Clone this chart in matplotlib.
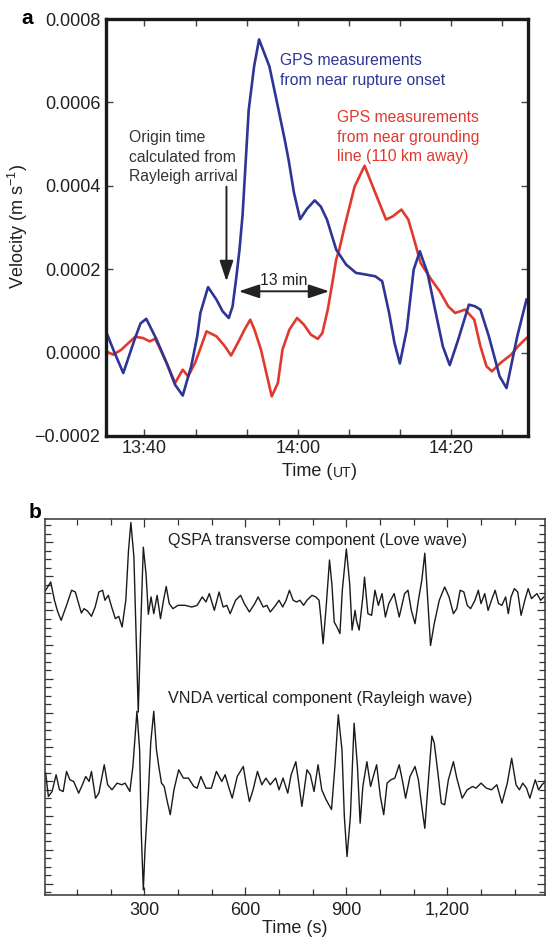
import matplotlib
matplotlib.use("Agg")
import matplotlib.pyplot as plt
from matplotlib.ticker import MultipleLocator, FixedLocator

plt.rcParams['font.family'] = ['Liberation Sans', 'DejaVu Sans']
plt.rcParams['mathtext.fontset'] = 'custom'
plt.rcParams['mathtext.rm'] = 'Liberation Sans'
plt.rcParams['mathtext.it'] = 'Liberation Sans:italic'

# ---- panel a: GPS velocity, time in minutes after 13:00, velocity in 1e-4 m/s
blue_t = [35.0, 36.0, 37.25, 38.7, 39.5, 40.25, 41.6, 42.9, 44.0, 45.0, 46.1, 46.9,
          47.3, 48.3, 49.4, 50.2, 51.0, 51.5, 52.0, 52.4, 52.8, 53.6, 54.3, 54.95,
          56.3, 57.4, 58.3, 58.8, 59.5, 60.3, 61.2, 62.2, 63.0, 63.8, 65.0, 66.3,
          67.6, 68.3, 70.1, 71.0, 71.9, 72.6, 73.3, 74.2, 75.1, 75.9, 76.9, 77.8,
          78.9, 79.8, 80.9, 82.3, 83.1, 83.8, 84.9, 86.3, 87.2, 88.6, 89.8]
blue_v = [0.51, 0.05, -0.49, 0.3, 0.7, 0.81, 0.31, -0.25, -0.77, -1.03, -0.33, 0.4,
          0.95, 1.57, 1.27, 0.99, 0.83, 1.11, 1.83, 2.47, 3.3, 5.82, 6.86, 7.51,
          6.86, 5.9, 5.1, 4.62, 3.83, 3.2, 3.45, 3.65, 3.5, 3.19, 2.47, 2.11,
          1.91, 1.89, 1.83, 1.71, 0.95, 0.23, -0.26, 0.55, 1.99, 2.43, 1.91, 1.11,
          0.15, -0.3, 0.31, 1.15, 1.11, 1.03, 0.39, -0.57, -0.85, 0.39, 1.27]

red_t = [35.0, 35.95, 37.0, 38.8, 39.8, 40.7, 41.4, 42.0, 43.1, 44.0, 45.0, 45.7,
         46.6, 47.2, 48.1, 49.4, 50.5, 51.3, 52.4, 53.05, 53.8, 54.35, 55.2, 55.9,
         56.6, 57.4, 58.0, 58.9, 59.9, 60.8, 61.7, 62.6, 63.2, 63.9, 64.5, 65.0,
         65.4, 66.2, 67.4, 68.7, 70.1, 71.5, 72.4, 73.5, 74.4, 75.1, 76.0, 77.4,
         78.5, 79.6, 80.5, 81.8, 83.0, 83.8, 84.6, 85.3, 86.4, 87.8, 88.7, 89.8]
red_v = [0.03, -0.05, 0.07, 0.38, 0.35, 0.27, 0.33, 0.11, -0.33, -0.73, -0.41, -0.57,
         -0.25, 0.05, 0.51, 0.39, 0.15, -0.07, 0.31, 0.55, 0.79, 0.55, 0.07, -0.49,
         -1.05, -0.73, 0.07, 0.55, 0.83, 0.67, 0.43, 0.33, 0.47, 1.03, 1.67, 2.23,
         2.47, 3.1, 3.98, 4.48, 3.83, 3.19, 3.27, 3.43, 3.19, 2.75, 2.15, 1.75,
         1.47, 1.11, 0.95, 1.03, 0.79, 0.15, -0.33, -0.45, -0.25, -0.05, 0.15, 0.35]

a_xticks = [40, 60, 80]
a_xticklabels = ['13:40', '14:00', '14:20']
a_yticks = [-0.0002, 0.0, 0.0002, 0.0004, 0.0006, 0.0008]
a_yticklabels = ['\u22120.0002', '0.0000', '0.0002', '0.0004', '0.0006', '0.0008']

# ---- panel b: seismograms, time in s, amplitude in arbitrary units
love_t = [7, 22, 33, 43, 53, 69, 84, 95, 105, 113, 121, 131, 143, 154, 165, 176, 183,
          193, 203, 214, 224, 234, 245, 253, 260, 269, 276, 282, 289, 297, 305, 312,
          320, 328, 338, 348, 357, 365, 374, 385, 400, 421, 441, 457, 472, 483, 493,
          508, 522, 534, 545, 555, 571, 586, 597, 612, 628, 638, 653, 664, 674, 690,
          700, 711, 721, 731, 742, 752, 762, 773, 783, 798, 809, 819, 824, 831, 840,
          850, 857, 864, 872, 881, 888, 900, 910, 917, 926, 930, 938, 949, 954, 964,
          975, 985, 995, 1006, 1016, 1026, 1042, 1057, 1073, 1083, 1093, 1104, 1114,
          1124, 1133, 1140, 1150, 1161, 1176, 1192, 1205, 1218, 1228, 1238, 1249,
          1259, 1269, 1282, 1292, 1300, 1311, 1321, 1331, 1342, 1352, 1362, 1373,
          1381, 1389, 1399, 1409, 1419, 1430, 1440, 1450, 1466, 1477, 1487]
love_v = [1.76, 2.73, 0.59, -0.78, -1.76, 0.0, 1.76, 1.56, 0.2, -0.9, -0.39, -0.66,
          -1.29, -0.2, 1.56, 1.76, 0.59, 1.17, -0.2, -1.56, -1.29, -2.54, 0.59, 6.4,
          9.7, 5.7, -4.1, -12.5, -2.9, 6.8, 3.7, -1.05, 0.98, -0.98, 1.17, -1.56, 0.59,
          2.2, 0.2, -0.39, 0.0, 0.0, -0.2, 0.0, 0.98, 0.39, 1.37, -0.59, 1.56, -0.2,
          0.0, -0.98, 0.59, 1.17, 0.2, -0.78, 0.2, 0.98, -0.2, 0.0, -0.78, 0.0, 0.59,
          -0.2, 0.59, 1.76, 0.59, 0.39, 0.59, 0.0, 0.59, 1.17, 0.98, 0.59, -1.37, -4.5,
          -0.2, 5.3, 2.5, -1.95, -2.54, -3.3, 1.76, 6.6, 2.5, -2.9, -0.59, -1.76, -2.9,
          0.98, 3.3, -0.98, -1.17, 1.76, 0.0, 1.37, -1.37, 0.2, 1.37, -1.37, 1.37, 1.76,
          -0.59, -2.15, 0.59, 2.9, 6.1, 1.76, -4.7, -2.15, 0.59, 2.15, 0.98, -0.98,
          -0.39, 1.76, 1.56, 0.0, -0.39, 0.59, 1.76, 0.2, 1.37, -0.59, 0.59, 1.76, 0.2,
          0.0, 0.98, -0.98, 0.98, 1.95, 1.56, -1.17, 0.59, 1.95, 0.78, 1.37, 0.59, 0.98]

rayleigh_t = [7, 15, 26, 38, 48, 59, 69, 79, 90, 105, 116, 126, 136, 143, 155, 165,
              181, 191, 204, 219, 233, 243, 257, 266, 278, 286, 291, 297, 302, 312,
              319, 328, 336, 343, 351, 359, 367, 377, 388, 402, 416, 431, 447, 457,
              468, 483, 499, 514, 530, 540, 550, 561, 576, 594, 602, 612, 623, 636,
              649, 661, 674, 690, 700, 712, 726, 736, 750, 760, 768, 783, 793, 804,
              816, 827, 840, 856, 866, 876, 887, 894, 902, 912, 923, 933, 941, 949,
              961, 972, 980, 990, 1001, 1011, 1021, 1032, 1044, 1057, 1068, 1076, 1089,
              1104, 1114, 1124, 1133, 1143, 1154, 1161, 1172, 1182, 1192, 1203, 1218,
              1228, 1244, 1259, 1275, 1285, 1300, 1316, 1331, 1347, 1362, 1378, 1391,
              1404, 1414, 1424, 1435, 1445, 1461, 1471, 1481, 1492]
rayleigh_v = [1.56, -1.17, -0.59, 1.37, -0.39, -0.59, 1.76, 0.78, 0.59, -0.78, 0.2,
              1.17, 0.59, 1.76, -1.37, -0.78, 2.54, 0.2, -0.39, 0.39, 0.2, 0.39, -0.59,
              2.34, 8.8, 4.3, -5.5, -12.1, -7.4, -0.78, 5.1, 8.8, 4.3, 2.34, 0.39, 0.0,
              -1.56, -3.3, -0.39, 1.95, 0.98, 0.98, 0.0, -0.2, 1.17, -0.2, -0.2, 1.76,
              0.59, 1.37, 0.0, -1.37, 1.17, 2.34, 0.39, -1.76, -0.39, 1.76, 0.2, 0.98,
              0.2, 0.98, -0.39, 0.98, -0.78, 1.37, 2.9, 0.0, -2.34, 1.95, 1.37, -0.59,
              2.54, -0.39, -1.56, -2.7, 2.34, 8.4, 4.3, -3.5, -8.2, -3.5, 7.4, 2.34,
              -4.3, 0.0, 2.9, 0.0, 1.17, 2.54, -1.17, -3.3, 0.39, 0.78, 0.98, 2.54, 0.39,
              -1.37, 1.17, 2.34, 0.78, -2.34, -4.9, 0.39, 5.9, 5.1, 1.56, -1.95, -2.15,
              0.78, 2.9, 0.98, -1.37, -0.39, 0.0, -0.2, 0.39, -0.2, -0.39, 0.2, -1.95,
              0.39, 3.3, 0.2, -0.39, 0.39, -0.2, -1.37, 0.78, -0.39, 0.2, 0.59]

b_xticks = [300, 600, 900, 1200]
b_xticklabels = ['300', '600', '900', '1,200']

blue = '#2e3594'
red = '#e03a2e'
ink = '#231f20'

fig = plt.figure(figsize=(5.46, 9.40), dpi=100)

# ================= panel a =================
ax = fig.add_axes([106 / 546, 1 - 436 / 940, 422 / 546, 417 / 940])
ax.plot(red_t, [v * 1e-4 for v in red_v], color=red, lw=1.9, solid_joinstyle='round')
ax.plot(blue_t, [v * 1e-4 for v in blue_v], color=blue, lw=1.9, solid_joinstyle='round')
ax.set_xlim(35, 90)
ax.set_ylim(-0.0002, 0.0008)
ax.xaxis.set_major_locator(FixedLocator(a_xticks))
ax.set_xticklabels(a_xticklabels)
ax.xaxis.set_minor_locator(MultipleLocator(20 / 3))
ax.set_yticks(a_yticks)
ax.set_yticklabels(a_yticklabels)
ax.tick_params(which='both', direction='in', top=True, right=True, length=5,
               width=1.0, color='#444444', labelsize=13, labelcolor=ink)
ax.tick_params(axis='x', pad=3)
ax.tick_params(axis='y', pad=4)
for s in ax.spines.values():
    s.set_linewidth(2.4)
    s.set_color('#1a1a1a')

ax.text(57.7, 0.000677, 'GPS measurements\nfrom near rupture onset',
        color=blue, fontsize=11.3, ha='left', va='center', linespacing=1.4)
ax.text(65.1, 0.000517, 'GPS measurements\nfrom near grounding\nline (110 km away)',
        color=red, fontsize=11.3, ha='left', va='center', linespacing=1.4)
ax.text(38.0, 0.000469, 'Origin time\ncalculated from\nRayleigh arrival',
        color='#333333', fontsize=11.3, ha='left', va='center', linespacing=1.4)
ax.annotate('', xy=(50.7, 0.000171), xytext=(50.7, 0.000398),
            arrowprops=dict(arrowstyle='-|>,head_length=0.9,head_width=0.3',
                            lw=1.4, color='#222222', mutation_scale=14,
                            shrinkA=0, shrinkB=0))
ax.annotate('', xy=(52.3, 0.000147), xytext=(64.1, 0.000147),
            arrowprops=dict(arrowstyle='<|-|>,head_length=0.9,head_width=0.3',
                            lw=1.4, color='#222222', mutation_scale=14,
                            shrinkA=0, shrinkB=0))
ax.text(58.2, 0.000173, '13 min', fontsize=11.3, color=ink, ha='center', va='center')

fig.text(18 / 546, 1 - 227 / 940, 'Velocity (m s$^{\u22121}$)', rotation=90,
         fontsize=13, color=ink, ha='center', va='center')
mid = fig.text(342 / 546, 1 - 480 / 940, 'UT', fontsize=10, color=ink,
               ha='center', va='bottom')
ax.annotate('Time (', xy=(0, 0), xycoords=mid, fontsize=13, color=ink,
            ha='right', va='bottom', annotation_clip=False)
ax.annotate(')', xy=(1, 0), xycoords=mid, fontsize=13, color=ink,
            ha='left', va='bottom', annotation_clip=False)
fig.text(27 / 546, 1 - 19 / 940, 'a', fontsize=15, fontweight='bold',
         ha='center', va='center')

# ================= panel b =================
bx = fig.add_axes([45 / 546, 1 - 895 / 940, 500 / 546, 376 / 940])
top_base = 32.6
bottom_base = 11.4
bx.plot(love_t, [v + top_base for v in love_v], color='#1a1a1a', lw=1.0,
        solid_joinstyle='round')
bx.plot(rayleigh_t, [v + bottom_base for v in rayleigh_v], color='#1a1a1a', lw=1.0,
        solid_joinstyle='round')
bx.set_xlim(5, 1490)
bx.set_ylim(-1.3, 42.7)
bx.xaxis.set_major_locator(FixedLocator(b_xticks))
bx.set_xticklabels(b_xticklabels)
bx.xaxis.set_minor_locator(MultipleLocator(100))
bx.yaxis.set_major_locator(MultipleLocator(4))
bx.yaxis.set_minor_locator(MultipleLocator(1))
bx.tick_params(which='both', direction='in', top=True, right=True, width=0.9,
               color='#333333', labelsize=13, labelcolor=ink)
bx.tick_params(which='major', length=6)
bx.tick_params(which='minor', length=4)
bx.tick_params(axis='y', labelleft=False)
bx.tick_params(axis='x', pad=5)
for s in bx.spines.values():
    s.set_linewidth(1.1)
    s.set_color('#333333')
bx.set_xlabel('Time (s)', fontsize=13, color=ink, labelpad=1)

bx.text(371, 40.2, 'QSPA transverse component (Love wave)', fontsize=11.6,
        color=ink, ha='left', va='center')
bx.text(371, 21.75, 'VNDA vertical component (Rayleigh wave)', fontsize=11.6,
        color=ink, ha='left', va='center')
fig.text(35 / 546, 1 - 513 / 940, 'b', fontsize=15, fontweight='bold',
         ha='center', va='center')

fig.savefig('out.png', dpi=100, facecolor='white')
